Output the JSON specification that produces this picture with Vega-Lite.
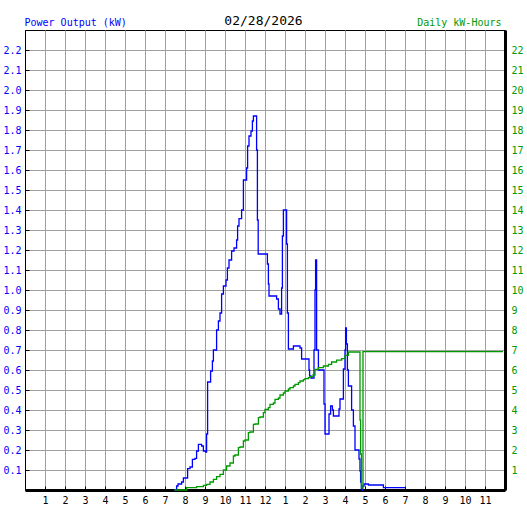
{
  "$schema": "https://vega.github.io/schema/vega-lite/v6.json",
  "width": 480,
  "height": 460,
  "autosize": {"type": "none"},
  "padding": {"left": 25, "top": 30, "right": 22, "bottom": 20},
  "background": "#ffffff",
  "config": {
    "view": {"stroke": "#000000", "strokeWidth": 1},
    "axis": {
      "labelFont": "DejaVu Sans Mono",
      "labelFontSize": 10,
      "titleFont": "DejaVu Sans Mono",
      "titleFontWeight": "normal",
      "gridColor": "#a0a0a0",
      "gridOpacity": 1,
      "gridWidth": 1,
      "domainColor": "#000000",
      "tickColor": "#000000"
    }
  },
  "layer": [
    {
      "data": {"values": [
        {"h": 7.45, "kw": 0}, {"h": 7.58, "kw": 0.02}, {"h": 7.65, "kw": 0.03}, {"h": 7.83, "kw": 0.04},
        {"h": 7.92, "kw": 0.06}, {"h": 8.13, "kw": 0.107}, {"h": 8.25, "kw": 0.115}, {"h": 8.37, "kw": 0.153},
        {"h": 8.5, "kw": 0.158}, {"h": 8.58, "kw": 0.195}, {"h": 8.67, "kw": 0.228}, {"h": 8.83, "kw": 0.22},
        {"h": 8.92, "kw": 0.195}, {"h": 9.03, "kw": 0.19}, {"h": 9.08, "kw": 0.28}, {"h": 9.13, "kw": 0.54},
        {"h": 9.28, "kw": 0.595}, {"h": 9.37, "kw": 0.645}, {"h": 9.42, "kw": 0.7}, {"h": 9.58, "kw": 0.8},
        {"h": 9.67, "kw": 0.845}, {"h": 9.75, "kw": 0.885}, {"h": 9.83, "kw": 0.98}, {"h": 9.92, "kw": 1.02},
        {"h": 10.05, "kw": 1.05}, {"h": 10.12, "kw": 1.11}, {"h": 10.2, "kw": 1.15}, {"h": 10.33, "kw": 1.195},
        {"h": 10.45, "kw": 1.21}, {"h": 10.58, "kw": 1.25}, {"h": 10.63, "kw": 1.32}, {"h": 10.7, "kw": 1.357},
        {"h": 10.83, "kw": 1.4}, {"h": 10.92, "kw": 1.55}, {"h": 11.08, "kw": 1.61}, {"h": 11.13, "kw": 1.72},
        {"h": 11.2, "kw": 1.77}, {"h": 11.3, "kw": 1.795}, {"h": 11.37, "kw": 1.845}, {"h": 11.42, "kw": 1.87},
        {"h": 11.58, "kw": 1.7}, {"h": 11.62, "kw": 1.35}, {"h": 11.66, "kw": 1.18}, {"h": 12.12, "kw": 1.13},
        {"h": 12.17, "kw": 1.03}, {"h": 12.2, "kw": 0.97}, {"h": 12.58, "kw": 0.955}, {"h": 12.67, "kw": 0.905},
        {"h": 12.75, "kw": 0.88}, {"h": 12.83, "kw": 1.01}, {"h": 12.87, "kw": 1.27}, {"h": 12.92, "kw": 1.4},
        {"h": 13.08, "kw": 1.23}, {"h": 13.12, "kw": 0.885}, {"h": 13.17, "kw": 0.705}, {"h": 13.42, "kw": 0.72},
        {"h": 13.75, "kw": 0.71}, {"h": 13.83, "kw": 0.655}, {"h": 14.2, "kw": 0.6}, {"h": 14.23, "kw": 0.57},
        {"h": 14.3, "kw": 0.56}, {"h": 14.45, "kw": 0.7}, {"h": 14.5, "kw": 1.0}, {"h": 14.53, "kw": 1.15},
        {"h": 14.58, "kw": 0.7}, {"h": 14.67, "kw": 0.6}, {"h": 14.95, "kw": 0.43}, {"h": 15.0, "kw": 0.28},
        {"h": 15.2, "kw": 0.38}, {"h": 15.28, "kw": 0.42}, {"h": 15.37, "kw": 0.4}, {"h": 15.42, "kw": 0.37},
        {"h": 15.7, "kw": 0.405}, {"h": 15.75, "kw": 0.455}, {"h": 15.92, "kw": 0.605}, {"h": 16.0, "kw": 0.7},
        {"h": 16.03, "kw": 0.81}, {"h": 16.07, "kw": 0.73}, {"h": 16.12, "kw": 0.6}, {"h": 16.17, "kw": 0.52},
        {"h": 16.33, "kw": 0.4}, {"h": 16.42, "kw": 0.32}, {"h": 16.5, "kw": 0.2}, {"h": 16.7, "kw": 0.155},
        {"h": 16.75, "kw": 0.095}, {"h": 16.78, "kw": 0.04}, {"h": 16.82, "kw": 0.0}, {"h": 16.87, "kw": 0.02},
        {"h": 16.95, "kw": 0.03}, {"h": 17.17, "kw": 0.025}, {"h": 17.92, "kw": 0.012}, {"h": 19.0, "kw": 0.012}
      ]},
      "mark": {"type": "line", "color": "#0000ff", "strokeWidth": 1.3, "interpolate": "step-after"},
      "encoding": {
        "x": {
          "field": "h", "type": "quantitative",
          "scale": {"domain": [0, 24], "nice": false, "zero": false},
          "axis": {
            "orient": "bottom",
            "values": [1,2,3,4,5,6,7,8,9,10,11,12,13,14,15,16,17,18,19,20,21,22,23],
            "labelExpr": "datum.value == 12 ? '12' : '' + (datum.value % 12)",
            "labelColor": "#000000",
            "labelFlush": false,
            "labelOverlap": false,
            "grid": true,
            "tickSize": -4,
            "labelPadding": 9,
            "domainWidth": 3,
            "title": null
          }
        },
        "y": {
          "field": "kw", "type": "quantitative",
          "scale": {"domain": [0, 2.3], "nice": false},
          "axis": {
            "orient": "left",
            "values": [0.1,0.2,0.3,0.4,0.5,0.6,0.7,0.8,0.9,1.0,1.1,1.2,1.3,1.4,1.5,1.6,1.7,1.8,1.9,2.0,2.1,2.2],
            "format": ".1f",
            "labelColor": "#0000ff",
            "grid": true,
            "tickSize": -4,
            "labelPadding": 8,
            "domainWidth": 1,
            "title": "Power Output (kW)",
            "titleColor": "#0000ff",
            "titleFontSize": 10,
            "titleAngle": 0,
            "titleX": -1,
            "titleY": -5,
            "titleAlign": "left",
            "titleBaseline": "alphabetic"
          }
        }
      }
    },
    {
      "data": {"values": [
        {"h": 7.47, "kwh": 0}, {"h": 8.08, "kwh": 0.12}, {"h": 8.58, "kwh": 0.17}, {"h": 8.92, "kwh": 0.23},
        {"h": 9.08, "kwh": 0.28}, {"h": 9.25, "kwh": 0.4}, {"h": 9.42, "kwh": 0.53}, {"h": 9.58, "kwh": 0.67},
        {"h": 9.75, "kwh": 0.78}, {"h": 9.92, "kwh": 1.0}, {"h": 10.08, "kwh": 1.2}, {"h": 10.25, "kwh": 1.35},
        {"h": 10.42, "kwh": 1.7}, {"h": 10.5, "kwh": 1.75}, {"h": 10.67, "kwh": 2.12}, {"h": 10.75, "kwh": 2.15},
        {"h": 10.92, "kwh": 2.45}, {"h": 11.0, "kwh": 2.5}, {"h": 11.17, "kwh": 2.87}, {"h": 11.25, "kwh": 2.9},
        {"h": 11.42, "kwh": 3.28}, {"h": 11.5, "kwh": 3.3}, {"h": 11.67, "kwh": 3.62}, {"h": 11.75, "kwh": 3.65},
        {"h": 11.92, "kwh": 3.87}, {"h": 12.0, "kwh": 4.03}, {"h": 12.17, "kwh": 4.12}, {"h": 12.25, "kwh": 4.28},
        {"h": 12.42, "kwh": 4.35}, {"h": 12.5, "kwh": 4.53}, {"h": 12.67, "kwh": 4.6}, {"h": 12.75, "kwh": 4.75},
        {"h": 12.92, "kwh": 4.85}, {"h": 13.0, "kwh": 4.95}, {"h": 13.17, "kwh": 5.05}, {"h": 13.25, "kwh": 5.12},
        {"h": 13.42, "kwh": 5.2}, {"h": 13.5, "kwh": 5.28}, {"h": 13.67, "kwh": 5.37}, {"h": 13.75, "kwh": 5.45},
        {"h": 13.92, "kwh": 5.52}, {"h": 14.0, "kwh": 5.57}, {"h": 14.17, "kwh": 5.62}, {"h": 14.25, "kwh": 5.67},
        {"h": 14.4, "kwh": 5.75}, {"h": 14.5, "kwh": 6.03}, {"h": 14.67, "kwh": 6.12}, {"h": 14.92, "kwh": 6.2},
        {"h": 15.17, "kwh": 6.28}, {"h": 15.33, "kwh": 6.4}, {"h": 15.58, "kwh": 6.49}, {"h": 15.83, "kwh": 6.57},
        {"h": 16.0, "kwh": 6.73}, {"h": 16.17, "kwh": 6.9}, {"h": 16.75, "kwh": 3.5}, {"h": 16.78, "kwh": 1.8},
        {"h": 16.82, "kwh": 0.1}, {"h": 16.9, "kwh": 6.92}, {"h": 23.9, "kwh": 6.92}
      ]},
      "mark": {"type": "line", "color": "#009900", "strokeWidth": 1.3, "interpolate": "step-after"},
      "encoding": {
        "x": {
          "field": "h", "type": "quantitative",
          "axis": {
            "orient": "top",
            "grid": false,
            "domain": false,
            "ticks": false,
            "labels": false,
            "title": "02/28/2026",
            "titleColor": "#000000",
            "titleFontSize": 13,
            "titleAngle": 0,
            "titleX": 238,
            "titleY": -6,
            "titleAlign": "center",
            "titleBaseline": "alphabetic"
          }
        },
        "y": {
          "field": "kwh", "type": "quantitative",
          "scale": {"domain": [0, 23], "nice": false},
          "axis": {
            "orient": "right",
            "values": [1,2,3,4,5,6,7,8,9,10,11,12,13,14,15,16,17,18,19,20,21,22],
            "labelColor": "#009900",
            "grid": false,
            "ticks": false,
            "labelPadding": 6,
            "domainWidth": 3,
            "title": "Daily kW-Hours",
            "titleColor": "#009900",
            "titleFontSize": 10,
            "titleAngle": 0,
            "titleX": -4,
            "titleY": -5,
            "titleAlign": "right",
            "titleBaseline": "alphabetic"
          }
        }
      }
    }
  ],
  "resolve": {"scale": {"y": "independent"}, "axis": {"x": "independent"}}
}
